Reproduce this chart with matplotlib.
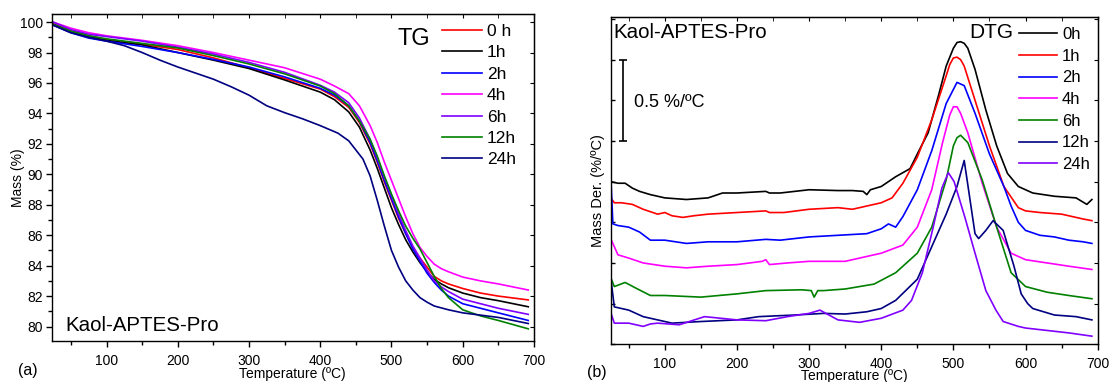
import numpy as np
import matplotlib
matplotlib.use("Agg")
from matplotlib import pyplot as plt

plt.rcParams['font.family'] = ['Liberation Sans', 'DejaVu Sans']

# TG data (mass %)
tg_temp = [25, 50, 75, 100, 150, 200, 250, 300, 350, 400, 420, 440, 455, 470, 480, 490, 500,
           510, 520, 530, 540, 550, 560, 570, 580, 600, 625, 650, 692]
tg_0h = [99.9, 99.45, 99.1, 98.85, 98.55, 98.2, 97.65, 97.0, 96.3, 95.6, 95.1, 94.4, 93.4, 92.0, 90.8,
         89.5, 88.3, 87.1, 86.1, 85.2, 84.5, 83.9, 83.3, 83.0, 82.8, 82.5, 82.2, 82.0, 81.75]
tg_1h = [99.85, 99.35, 99.0, 98.8, 98.5, 98.0, 97.5, 96.95, 96.2, 95.4, 94.9, 94.1, 93.1, 91.6, 90.4,
         89.1, 87.8, 86.7, 85.7, 84.9, 84.2, 83.6, 83.1, 82.8, 82.55, 82.2, 81.9, 81.7, 81.3]
tg_2h = [99.8, 99.3, 98.95, 98.75, 98.4, 98.0, 97.55, 97.05, 96.4, 95.65, 95.2, 94.5, 93.5, 92.1, 90.9,
         89.6, 88.4, 87.2, 86.1, 85.1, 84.3, 83.5, 82.9, 82.4, 82.0, 81.5, 81.2, 80.9, 80.4]
tg_4h = [100.0, 99.6, 99.3, 99.1, 98.8, 98.45, 98.0, 97.5, 97.0, 96.25, 95.8, 95.3, 94.5, 93.2, 92.1,
         90.8, 89.6, 88.4, 87.2, 86.1, 85.2, 84.6, 84.1, 83.8, 83.6, 83.25, 83.0, 82.8, 82.4]
tg_6h = [100.0, 99.5, 99.2, 99.05, 98.75, 98.35, 97.9, 97.35, 96.7, 95.85, 95.4, 94.7, 93.7, 92.3, 91.1,
         89.8, 88.6, 87.4, 86.3, 85.3, 84.5, 83.7, 83.0, 82.6, 82.3, 81.8, 81.5, 81.2, 80.8]
tg_12h = [99.85, 99.4, 99.1, 98.9, 98.6, 98.3, 97.8, 97.25, 96.6, 95.8, 95.3, 94.5, 93.5, 92.3, 91.2,
          89.9, 88.7, 87.6, 86.6, 85.8, 85.1, 84.2, 83.3, 82.5, 81.9, 81.1, 80.7, 80.4, 79.85]
tg_temp_24h = [25, 50, 75, 100, 125, 150, 175, 200, 225, 250, 275, 300, 325, 350, 375, 400, 425, 440,
               450, 460, 470, 480, 490, 500, 510, 520, 530, 540, 550, 560, 580, 600, 625, 650, 692]
tg_24h = [99.8, 99.3, 99.0, 98.75, 98.45, 98.0, 97.5, 97.05, 96.65, 96.25, 95.75, 95.2, 94.5, 94.05,
          93.65, 93.2, 92.7, 92.2, 91.6, 91.0, 89.9, 88.3, 86.6, 85.0, 83.9, 83.0, 82.4, 81.9, 81.6,
          81.35, 81.1, 80.9, 80.75, 80.6, 80.2]

# DTG data (arbitrary offset, %/ºC)
dtg_t_0h = [25, 35, 45, 55, 65, 80, 100, 130, 160, 180, 200, 240, 245, 260, 300, 340, 360, 375, 380, 385,
            400, 420, 440, 450, 465, 480, 490, 500, 505, 510, 515, 520, 530, 545, 560, 575, 590, 610, 640,
            670, 685, 692]
dtg_0h = [1.00, 0.99, 0.99, 0.96, 0.94, 0.92, 0.90, 0.89, 0.90, 0.93, 0.93, 0.94, 0.93, 0.93, 0.95, 0.945,
          0.945, 0.94, 0.92, 0.95, 0.97, 1.03, 1.08, 1.17, 1.30, 1.54, 1.71, 1.82, 1.855, 1.86, 1.85, 1.82,
          1.69, 1.44, 1.22, 1.05, 0.97, 0.93, 0.91, 0.90, 0.86, 0.89]
dtg_t_1h = [25, 30, 40, 55, 70, 90, 100, 110, 125, 140, 160, 200, 240, 245, 265, 300, 340, 360, 380, 400,
            415, 430, 450, 470, 490, 495, 500, 505, 510, 515, 530, 550, 570, 590, 600, 620, 650, 680, 692]
dtg_1h = [0.90, 0.87, 0.87, 0.86, 0.83, 0.80, 0.81, 0.79, 0.78, 0.79, 0.80, 0.81, 0.82, 0.81, 0.81, 0.83,
          0.84, 0.83, 0.85, 0.87, 0.90, 0.99, 1.15, 1.38, 1.65, 1.72, 1.76, 1.765, 1.75, 1.71, 1.50, 1.22,
          0.97, 0.84, 0.82, 0.81, 0.80, 0.77, 0.76]
dtg_t_2h = [25, 28, 35, 50, 65, 80, 100, 130, 160, 200, 240, 260, 300, 340, 380, 400, 410, 420, 430, 450,
            470, 490, 505, 510, 515, 530, 550, 560, 570, 580, 590, 600, 620, 640, 660, 680, 692]
dtg_2h = [1.04, 0.74, 0.73, 0.72, 0.69, 0.64, 0.64, 0.62, 0.63, 0.63, 0.645, 0.64, 0.66, 0.67, 0.68, 0.71,
          0.74, 0.72, 0.785, 0.95, 1.19, 1.48, 1.61, 1.60, 1.59, 1.42, 1.17, 1.07, 0.97, 0.85, 0.75, 0.70,
          0.67, 0.66, 0.64, 0.63, 0.62]
dtg_t_4h = [25, 30, 35, 50, 70, 100, 130, 160, 200, 235, 240, 245, 270, 300, 350, 400, 430, 450, 470, 485,
            495, 500, 505, 510, 520, 540, 560, 580, 600, 630, 660, 692]
dtg_4h = [0.65, 0.60, 0.55, 0.53, 0.50, 0.48, 0.47, 0.48, 0.49, 0.51, 0.52, 0.49, 0.50, 0.51, 0.51, 0.56,
          0.61, 0.72, 0.95, 1.24, 1.41, 1.46, 1.46, 1.42, 1.30, 0.99, 0.72, 0.56, 0.52, 0.50, 0.48, 0.46]
dtg_t_6h = [25, 30, 45, 60, 80, 100, 150, 200, 240, 290, 303, 307, 312, 320, 350, 390, 420, 450, 470, 490,
            500, 505, 510, 520, 540, 560, 580, 600, 630, 660, 692]
dtg_6h = [0.41, 0.355, 0.38, 0.345, 0.30, 0.30, 0.29, 0.31, 0.33, 0.335, 0.33, 0.29, 0.33, 0.33, 0.34, 0.37,
          0.44, 0.56, 0.72, 1.01, 1.22, 1.27, 1.285, 1.24, 1.01, 0.72, 0.44, 0.355, 0.32, 0.30, 0.28]
dtg_t_12h = [25, 30, 50, 70, 90, 110, 150, 200, 230, 280, 320, 350, 380, 400, 420, 450, 470, 490, 505, 515,
             523, 530, 535, 545, 555, 569, 584, 594, 603, 610, 640, 670, 692]
dtg_12h = [0.41, 0.23, 0.21, 0.17, 0.15, 0.13, 0.14, 0.15, 0.17, 0.18, 0.19, 0.186, 0.20, 0.22, 0.27, 0.40,
           0.60, 0.80, 0.97, 1.13, 0.89, 0.68, 0.65, 0.70, 0.76, 0.70, 0.48, 0.31, 0.25, 0.22, 0.18, 0.17, 0.15]
dtg_t_24h = [25, 30, 50, 60, 70, 80, 90, 120, 155, 200, 240, 270, 300, 315, 340, 370, 400, 430, 442, 457,
             472, 484, 493, 501, 516, 530, 545, 559, 569, 590, 600, 620, 640, 660, 692]
dtg_24h = [0.195, 0.13, 0.13, 0.12, 0.11, 0.125, 0.13, 0.12, 0.17, 0.15, 0.145, 0.17, 0.19, 0.21, 0.15, 0.135,
           0.16, 0.21, 0.27, 0.44, 0.72, 0.96, 1.055, 1.0, 0.78, 0.56, 0.33, 0.21, 0.14, 0.11, 0.10, 0.09,
           0.08, 0.07, 0.05]

labels_tg = ['0 h', '1h', '2h', '4h', '6h', '12h', '24h']
labels_dtg = ['0h', '1h', '2h', '4h', '6h', '12h', '24h']

RED, BLACK, BLUE, MAG, PURP, GREEN, NAVY = '#ff0000', '#000000', '#0000ff', '#ff00ff', '#8000ff', '#008000', '#000080'

fig = plt.figure(figsize=(11.11, 3.82), dpi=100)
ax1 = fig.add_axes([0.0465, 0.1073, 0.4341, 0.856])
ax2 = fig.add_axes([0.5497, 0.0987, 0.4383, 0.856])

lw = 1.2
tg_sets = [(tg_temp, tg_0h), (tg_temp, tg_1h), (tg_temp, tg_2h), (tg_temp, tg_4h),
           (tg_temp, tg_6h), (tg_temp, tg_12h), (tg_temp_24h, tg_24h)]
for (t, y), c, lab in zip(tg_sets, [RED, BLACK, BLUE, MAG, PURP, GREEN, NAVY], labels_tg):
    ax1.plot(t, y, color=c, lw=lw, label=lab)

dtg_sets = [(dtg_t_0h, dtg_0h), (dtg_t_1h, dtg_1h), (dtg_t_2h, dtg_2h), (dtg_t_4h, dtg_4h),
            (dtg_t_6h, dtg_6h), (dtg_t_12h, dtg_12h), (dtg_t_24h, dtg_24h)]
for (t, y), c, lab in zip(dtg_sets, [BLACK, RED, BLUE, MAG, GREEN, NAVY, PURP], labels_dtg):
    ax2.plot(t, y, color=c, lw=lw, label=lab)

# axes limits / ticks
ax1.set_xlim(23, 700)
ax1.set_ylim(79.05, 100.53)
ax1.set_xticks(np.arange(100, 701, 100))
ax1.set_xticks(np.arange(50, 700, 100), minor=True)
ax1.set_yticks(np.arange(80, 101, 2))
ax1.set_yticks(np.arange(81, 100, 2), minor=True)

ax2.set_xlim(25, 700)
ax2.set_ylim(0, 2.01)
ax2.set_xticks(np.arange(100, 701, 100))
ax2.set_xticks(np.arange(50, 700, 100), minor=True)
ax2.set_yticks(np.arange(0, 2.01, 0.25))
ax2.set_yticklabels([])

for ax in (ax1, ax2):
    for s in ax.spines.values():
        s.set_linewidth(1.0)
    ax.tick_params(axis='x', which='major', direction='out', length=4, width=1, pad=5, labelsize=10)
    ax.tick_params(axis='x', which='minor', direction='out', length=3, width=1)
    top = ax.secondary_xaxis('top')
    top.set_xticks(np.arange(100, 701, 100))
    top.set_xticks(np.arange(50, 700, 100), minor=True)
    top.tick_params(which='both', direction='in', length=3, labeltop=False)
    right = ax.secondary_yaxis('right')
    right.set_yticks(ax.get_yticks())
    right.tick_params(which='major', direction='in', length=3, labelright=False)

ax1.tick_params(axis='y', which='major', direction='out', length=4, width=1, pad=2.5, labelsize=10)
ax1.tick_params(axis='y', which='minor', direction='out', length=3, width=1)
ax2.tick_params(axis='y', which='major', direction='in', length=3, width=1)

ax1.set_xlabel('Temperature (ºC)', fontsize=10)
ax1.xaxis.set_label_coords(0.5, -0.08)
ax1.set_ylabel('Mass (%)', fontsize=10)
ax1.yaxis.set_label_coords(-0.056, 0.5)
ax2.set_xlabel('Temperature (ºC)', fontsize=10)
ax2.xaxis.set_label_coords(0.5, -0.076)
ax2.set_ylabel('Mass Der. (%/ºC)', fontsize=10.5)
ax2.yaxis.set_label_coords(-0.012, 0.47)

# annotations
ax1.text(0.718, 0.924, 'TG', transform=ax1.transAxes, fontsize=17, va='center', ha='left')
ax1.text(42, 79.74, 'Kaol-APTES-Pro', fontsize=14.8, va='baseline', ha='left')
ax2.text(0.736, 0.953, 'DTG', transform=ax2.transAxes, fontsize=15, va='center', ha='left')
ax2.text(28, 1.975, 'Kaol-APTES-Pro', fontsize=14.8, va='top', ha='left')
ax2.errorbar([42.5], [1.5], yerr=[0.25], color='black', lw=1.2, capsize=3, capthick=1.2)
ax2.text(57, 1.485, '0.5 %/ºC', fontsize=13, va='center', ha='left')

ax1.legend(loc='upper left', bbox_to_anchor=(0.809, 0.97), frameon=False, fontsize=12.5,
           handlelength=2.3, handletextpad=0.3, labelspacing=0.36, borderpad=0, borderaxespad=0)
ax2.legend(loc='upper left', bbox_to_anchor=(0.838, 0.97), frameon=False, fontsize=12,
           handlelength=2.3, handletextpad=0.3, labelspacing=0.4, borderpad=0, borderaxespad=0)

fig.text(28 / 1111, 1 - 370 / 382, '(a)', fontsize=11.5, ha='center', va='center')
fig.text(597 / 1111, 1 - 372 / 382, '(b)', fontsize=11.5, ha='center', va='center')

fig.savefig('out.png', dpi=100)
